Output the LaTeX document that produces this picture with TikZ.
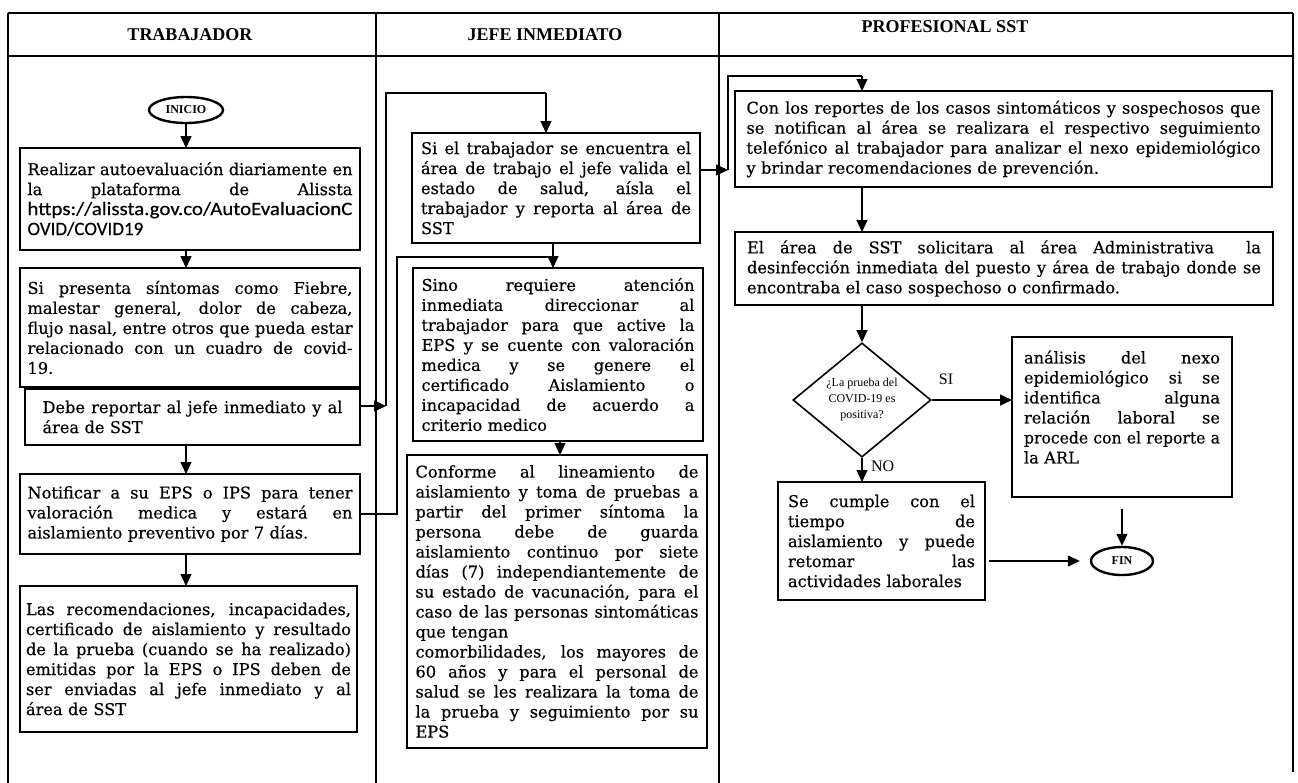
\documentclass[tikz,border=0pt]{standalone}
\usepackage{fontspec}
\usepackage{graphicx}
\setmainfont{DejaVu Serif}[FakeBold=0.4]
\newfontfamily\hdfont{Liberation Serif}
\newfontfamily\urlfont{Carlito}[FakeBold=0.4]
\usetikzlibrary{shapes.geometric,arrows.meta,calc}
\newcommand\jl[1]{\leavevmode\setbox0\hbox{#1}\ifdim\wd0>\hsize\resizebox{\hsize}{\height}{#1}\else{\spaceskip=\fontdimen2\font plus 1fil\relax\xspaceskip=\spaceskip\hbox to\hsize{#1}}\fi}
\newcommand\fitl[1]{\leavevmode\resizebox{\hsize}{\height}{#1}}
\tikzset{
  frame/.style={line width=0.8pt},
  box/.style={draw, line width=0.9pt, rectangle, anchor=north west, align=left,
    inner ysep=0pt, outer sep=0pt, font=\fontsize{8.1}{10}\selectfont},
  conn/.style={line width=0.7pt, -{Triangle[length=6pt,width=5.5pt]}},
  plain/.style={line width=0.7pt},
  hd/.style={font=\hdfont\bfseries\fontsize{9}{11}\selectfont},
  term/.style={draw, ellipse, line width=1.2pt, inner sep=0pt,
    font=\hdfont\bfseries\fontsize{6}{7}\selectfont},
  lbl/.style={font=\hdfont\fontsize{8}{9}\selectfont}
}
\begin{document}
\begin{tikzpicture}[x=0.5pt,y=-0.5pt]
\useasboundingbox (0,0) rectangle (1298,783);
% table frame
\draw[frame] (8,13) -- (1293,13);
\draw[frame] (8,56) -- (1293,56);
\draw[frame] (8,13) -- (8,783);
\draw[frame] (376,13) -- (376,783);
\draw[frame] (719,13) -- (719,783);
\draw[frame] (1293,13) -- (1293,772);
% headers
\node[hd] (h1) at (190,35) {TRABAJADOR};
\node[hd] (h2) at (545,35) {JEFE INMEDIATO};
\node[hd] (h3) at (945,27) {PROFESIONAL SST};

% column 1
\node[term, minimum width=37pt, minimum height=13pt] (ini) at (186,110) {INICIO};
\node[box, text width=162.5pt, inner xsep=3.75pt, minimum height=51pt] (B1) at (20,148) {%
\jl{Realizar autoevaluación diariamente en}\\
\jl{la plataforma de Alissta}\\
\fitl{\urlfont\fontsize{9.5}{10}\selectfont https://alissta.gov.co/AutoEvaluacionC}\\
{\urlfont\fontsize{9.5}{10}\selectfont OVID/COVID19}};
\node[box, text width=162.5pt, inner xsep=3.75pt, minimum height=59.5pt] (B2) at (20,268) {%
\jl{Si presenta síntomas como Fiebre,}\\
\jl{malestar general, dolor de cabeza,}\\
\jl{flujo nasal, entre otros que pueda estar}\\
\jl{relacionado con un cuadro de covid-}\\
19.};
\node[box, text width=150pt, inner xsep=8.75pt, minimum height=28pt] (B3) at (25,389) {%
\jl{Debe reportar al jefe inmediato y al}\\
área de SST};
\node[box, text width=162.5pt, inner xsep=3.75pt, minimum height=40pt] (B4) at (20,474) {%
\jl{Notificar a su EPS o IPS para tener}\\
\jl{valoración medica y estará en}\\
aislamiento preventivo por 7 días.};
\node[box, text width=162.5pt, inner xsep=3pt, minimum height=73pt] (B5) at (20,586) {%
\jl{Las recomendaciones, incapacidades,}\\
\jl{certificado de aislamiento y resultado}\\
\jl{de la prueba (cuando se ha realizado)}\\
\jl{emitidas por la EPS o IPS deben de}\\
\jl{ser enviadas al jefe inmediato y al}\\
área de SST};

% column 2
\node[box, text width=135pt, inner xsep=4.5pt, minimum height=55pt] (J1) at (412,133) {%
\jl{Si el trabajador se encuentra el}\\
\jl{área de trabajo el jefe valida el}\\
\jl{estado de salud, aísla el}\\
\jl{trabajador y reporta al área de}\\
SST};
\node[box, text width=136.5pt, inner xsep=4.25pt, minimum height=86.5pt] (J2) at (413,268) {%
\jl{Sino requiere atención}\\
\jl{inmediata direccionar al}\\
\jl{trabajador para que active la}\\
\jl{EPS y se cuente con valoración}\\
\jl{medica y se genere el}\\
\jl{certificado Aislamiento o}\\
\jl{incapacidad de acuerdo a}\\
criterio medico};
\node[box, text width=141.5pt, inner xsep=4.25pt, minimum height=146.5pt] (J3) at (407,455) {%
\jl{Conforme al lineamiento de}\\
\jl{aislamiento y toma de pruebas a}\\
\jl{partir del primer síntoma la}\\
\jl{persona debe de guarda}\\
\jl{aislamiento continuo por siete}\\
\jl{días (7) independiantemente de}\\
\jl{su estado de vacunación, para el}\\
\jl{caso de las personas sintomáticas}\\
que tengan\\
\jl{comorbilidades, los mayores de}\\
\jl{60 años y para el personal de}\\
\jl{salud se les realizara la toma de}\\
\jl{la prueba y seguimiento por su}\\
EPS};

% column 3
\node[box, text width=257pt, inner xsep=5.75pt, minimum height=48pt] (S1) at (735,91) {%
\jl{Con los reportes de los casos sintomáticos y sospechosos que}\\
\jl{se notifican al área se realizara el respectivo seguimiento}\\
\jl{telefónico al trabajador para analizar el nexo epidemiológico}\\
y brindar recomendaciones de prevención.};
\node[box, text width=257pt, inner xsep=6pt, minimum height=36.5pt] (S2) at (735,232) {%
\jl{El área de SST solicitara al área Administrativa\ \ la}\\
\jl{desinfección inmediata del puesto y área de trabajo donde se}\\
encontraba el caso sospechoso o confirmado.};
\node[draw, diamond, line width=0.8pt, minimum width=69pt, minimum height=56pt,
  inner sep=0pt, align=center, font=\hdfont\fontsize{6}{8}\selectfont] (D) at (862,400)
  {¿La prueba del\\COVID-19 es\\positiva?};
\node[box, text width=98pt, inner xsep=6pt, minimum height=80pt] (S3) at (1012,337) {%
\jl{análisis del nexo}\\
\jl{epidemiológico si se}\\
\jl{identifica alguna}\\
\jl{relación laboral se}\\
\jl{procede con el reporte a}\\
la ARL\\ \mbox{}};
\node[box, text width=93.5pt, inner xsep=5pt, minimum height=59pt] (S4) at (778,482) {%
\jl{Se cumple con el}\\
\jl{tiempo de}\\
\jl{aislamiento y puede}\\
\jl{retomar las}\\
actividades laborales};
\node[term, minimum width=31pt, minimum height=14pt] (fin) at (1122,561) {FIN};
\node[lbl] (si) at (946,379) {SI};
\node[lbl, anchor=west] (no) at (864,466) {NO};

% connector waypoints
\coordinate (c1) at (386,93);
\coordinate (c2) at (546,93);
\coordinate (c3) at (553,257);
\coordinate (c4) at (397,257);
\coordinate (c5) at (560,450);
\coordinate (c6) at (728,76);
\coordinate (c7) at (862,76);
\coordinate (c8) at (186,0);

% column 1 flow
\draw[conn] (ini.south) -- (ini.south |- B1.north);
\draw[conn] (c8 |- B1.south) -- (c8 |- B2.north);
\draw[conn] (c8 |- B3.south) -- (c8 |- B4.north);
\draw[conn] (c8 |- B4.south) -- (c8 |- B5.north);
% B3 -> J1
\coordinate (b3o) at ($(B3.east)+(0,-11)$);
\draw[conn] (b3o) -- (b3o -| c1);
\draw[plain] (b3o -| c1) -- (c1) -- (c2);
\draw[conn] (c2) -- (c2 |- J1.north);
% J1 -> J2, B4 -> J2
\draw[conn] (c3 |- J1.south) -- (c3 |- J2.north);
\draw[plain] (B4.east) -- (B4.east -| c4) -- (c4) -- (c3);
\draw[conn] (c5 |- J2.south) -- (c5 |- J3.north);
% J1 -> S1
\coordinate (j1o) at ($(J1.east)+(0,-18)$);
\draw[conn] (j1o) -- (j1o -| c6);
\draw[plain] (j1o -| c6) -- (c6) -- (c7);
\draw[conn] (c7) -- (c7 |- S1.north);
\draw[conn] (c7 |- S1.south) -- (c7 |- S2.north);
\draw[conn] (c7 |- S2.south) -- (D.north);
\draw[conn] (D.south) -- (D.south |- S4.north);
\draw[conn] (D.east) -- (D.east -| S3.west);
\draw[conn, shorten <=6pt] (S3.south) -- (fin.north);
\coordinate (s4o) at (S4.east |- fin.west);
\draw[conn, shorten <=2pt, shorten >=5pt] (s4o) -- (fin.west);
\end{tikzpicture}
\end{document}
